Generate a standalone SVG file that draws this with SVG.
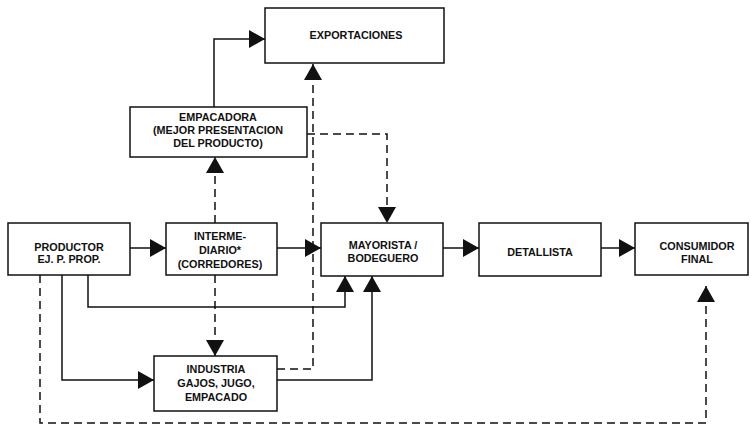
<svg xmlns="http://www.w3.org/2000/svg" width="753" height="426" viewBox="0 0 753 426">
  <style>
    .box { fill: #ffffff; stroke: #111111; stroke-width: 1.5; }
    .lbl { font-family: "Liberation Sans", Arial, sans-serif; font-weight: bold; font-size: 10.8px; fill: #111111; text-anchor: middle; }
    .ln { fill: none; stroke: #111111; stroke-width: 1.5; marker-end: url(#arrow); }
    .dash { stroke-dasharray: 8 5; }
  </style>
  <defs>
    <marker id="arrow" viewBox="0 0 16 18" refX="16" refY="9" markerWidth="16" markerHeight="18" markerUnits="userSpaceOnUse" orient="auto">
      <path d="M0,0 L16,9 L0,18 z" fill="#111111" stroke="none"/>
    </marker>
  </defs>
  <rect width="753" height="426" fill="#ffffff"/>

  <!-- connectors -->
  <g id="connectors">
    <!-- main chain -->
    <path class="ln" d="M130,248 H166"/>
    <path class="ln" d="M277,248 H321"/>
    <path class="ln" d="M443,248 H479"/>
    <path class="ln" d="M601,248 H635"/>
    <!-- productor to industria -->
    <path class="ln" d="M62,275 V380 H154"/>
    <!-- productor to mayorista -->
    <path class="ln" d="M88,275 V307 H345 V276"/>
    <!-- industria to mayorista -->
    <path class="ln" d="M277,380 H372 V276"/>
    <!-- industria to exportaciones -->
    <path class="ln dash" d="M277,369 H313 V64"/>
    <!-- productor to consumidor final -->
    <path class="ln dash" d="M40,275 V423 H706 V286"/>
    <!-- intermediario to industria / empacadora -->
    <path class="ln dash" d="M215,275 V356"/>
    <path class="ln dash" d="M215,223 V157"/>
    <!-- empacadora to exportaciones -->
    <path class="ln" d="M214,107 V39 H265"/>
    <!-- empacadora to mayorista -->
    <path class="ln dash" d="M307,134 H387 V223"/>
  </g>

  <g id="exportaciones">
    <rect class="box" x="265" y="8" width="179" height="55"/>
    <text class="lbl" x="356" y="39">EXPORTACIONES</text>
  </g>

  <g id="empacadora">
    <rect class="box" x="130" y="107" width="177" height="50"/>
    <text class="lbl" x="218" y="121">EMPACADORA</text>
    <text class="lbl" x="218" y="134">(MEJOR PRESENTACION</text>
    <text class="lbl" x="218" y="147">DEL PRODUCTO)</text>
  </g>

  <g id="productor">
    <rect class="box" x="8" y="223" width="122" height="52"/>
    <text class="lbl" x="69" y="251">PRODUCTOR</text>
    <text class="lbl" x="69" y="263">EJ. P. PROP.</text>
  </g>

  <g id="intermediario">
    <rect class="box" x="166" y="223" width="111" height="52"/>
    <text class="lbl" x="220" y="240">INTERME-</text>
    <text class="lbl" x="220" y="254">DIARIO*</text>
    <text class="lbl" x="220" y="268">(CORREDORES)</text>
  </g>

  <g id="mayorista">
    <rect class="box" x="321" y="223" width="122" height="53"/>
    <text class="lbl" x="383" y="249">MAYORISTA /</text>
    <text class="lbl" x="383" y="262">BODEGUERO</text>
  </g>

  <g id="detallista">
    <rect class="box" x="479" y="223" width="122" height="53"/>
    <text class="lbl" x="540" y="256">DETALLISTA</text>
  </g>

  <g id="consumidor">
    <rect class="box" x="635" y="223" width="113" height="52"/>
    <text class="lbl" x="697" y="250">CONSUMIDOR</text>
    <text class="lbl" x="697" y="263">FINAL</text>
  </g>

  <g id="industria">
    <rect class="box" x="154" y="356" width="123" height="55"/>
    <text class="lbl" x="216" y="373">INDUSTRIA</text>
    <text class="lbl" x="216" y="387">GAJOS, JUGO,</text>
    <text class="lbl" x="216" y="401">EMPACADO</text>
  </g>
</svg>
